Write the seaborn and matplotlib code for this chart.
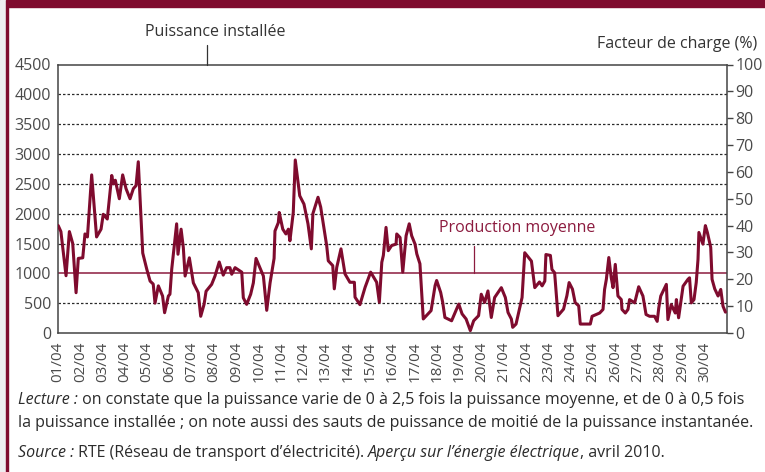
import numpy as np
import pandas as pd
import seaborn as sns
import matplotlib
matplotlib.use("Agg")
from matplotlib import pyplot as plt
from matplotlib.patches import Rectangle

# time in days since 01/04 00h, power in MW
jours = [0.01, 0.13, 0.36, 0.51, 0.66, 0.81, 0.91, 1.11, 1.21, 1.32, 1.51, 1.73,
         1.93, 2.03, 2.21, 2.41, 2.48, 2.57, 2.75, 2.90, 3.05, 3.23, 3.38, 3.50,
         3.60, 3.80, 3.98, 4.13, 4.27, 4.35, 4.50, 4.69, 4.78, 4.95, 5.02, 5.10,
         5.32, 5.38, 5.52, 5.62, 5.70, 5.89, 6.07, 6.29, 6.40, 6.55, 6.64, 6.89,
         7.04, 7.23, 7.41, 7.56, 7.71, 7.79, 7.94, 8.24, 8.31, 8.46, 8.64, 8.76,
         8.88, 9.21, 9.36, 9.51, 9.69, 9.73, 9.88, 9.92, 10.08, 10.22, 10.33, 10.40,
         10.55, 10.64, 10.84, 11.03, 11.21, 11.36, 11.43, 11.66, 11.78, 11.97, 12.05,
         12.12, 12.32, 12.39, 12.50, 12.69, 12.87, 13.09, 13.29, 13.32, 13.54, 13.77,
         14.02, 14.29, 14.41, 14.52, 14.59, 14.71, 14.81, 14.96, 15.16, 15.19, 15.34,
         15.46, 15.61, 15.75, 15.86, 16.01, 16.09, 16.23, 16.38, 16.73, 16.91, 16.98,
         17.16, 17.25, 17.35, 17.65, 17.97, 18.12, 18.30, 18.49, 18.64, 18.86, 18.98,
         19.13, 19.28, 19.43, 19.58, 19.88, 20.06, 20.18, 20.33, 20.39, 20.54, 20.81,
         20.93, 21.23, 21.38, 21.59, 21.71, 21.83, 21.88, 22.08, 22.15, 22.27, 22.42,
         22.67, 22.82, 22.92, 23.07, 23.19, 23.35, 23.42, 23.87, 23.95, 24.29, 24.44,
         24.51, 24.59, 24.70, 24.81, 24.89, 24.99, 25.11, 25.26, 25.29, 25.44, 25.56,
         25.63, 25.86, 26.04, 26.23, 26.37, 26.53, 26.75, 26.87, 26.94, 27.03, 27.28,
         27.35, 27.50, 27.68, 27.73, 27.83, 28.03, 28.25, 28.32, 28.40, 28.52, 28.62,
         28.70, 28.74, 28.92, 29.03, 29.12, 29.27, 29.33, 29.45, 29.60, 29.72, 29.82,
         29.93]
puissance = [1800, 1700, 960, 1700, 1500, 675, 1250, 1260, 1660, 1610, 2650, 1610,
             1740, 1990, 1910, 2640, 2500, 2560, 2250, 2650, 2420, 2250, 2420, 2470,
             2870, 1340, 1070, 870, 820, 500, 790, 620, 340, 620, 650, 1070,
             1830, 1320, 1740, 1430, 955, 1260, 840, 675, 280, 480, 700, 815,
             955, 1190, 970, 1095, 1095, 985, 1095, 1020, 590, 480, 650, 840,
             1250, 955, 380, 840, 1250, 1710, 1850, 2020, 1740, 1660, 1740, 1545,
             2020, 2900, 2300, 2160, 1830, 1410, 2000, 2275, 2110, 1660, 1460,
             1210, 1130, 740, 1100, 1410, 990, 850, 850, 600, 475, 765,
             1020, 850, 515, 1185, 1300, 1770, 1380, 1465, 1490, 1660, 1600,
             1020, 1630, 1830, 1630, 1490, 1325, 1160, 235, 375, 795, 880,
             680, 515, 260, 205, 485, 320, 235, 40, 205, 290, 650,
             510, 705, 260, 595, 760, 595, 345, 235, 95, 150, 595,
             1345, 1205, 760, 855, 790, 870, 1315, 1300, 1065, 1010, 290,
             400, 625, 845, 735, 510, 455, 150, 150, 280, 335, 395,
             730, 900, 1265, 925, 760, 1150, 620, 560, 395, 335, 395,
             560, 505, 775, 620, 310, 280, 280, 195, 420, 620, 815,
             225, 475, 335, 560, 255, 785, 900, 925, 505, 560, 845,
             1235, 1685, 1490, 1800, 1685, 1435, 900, 740, 620, 730, 450,
             350]
jours_labels = ["%02d/04" % d for d in range(1, 31)]
gauche_ticks = list(range(0, 5000, 500))
droite_ticks = list(range(0, 110, 10))
production_moyenne = 1000
puissance_installee = 4500

ROUGE = "#7f0b2e"
GRIS = "#4a4a4a"

df = pd.DataFrame({"jour": jours, "puissance": puissance})

sns.set_style("white")
plt.rcParams["font.family"] = ["Open Sans", "DejaVu Sans"]

fig = plt.figure(figsize=(7.65, 4.72), dpi=100)
# frame: top band and left border
fig.patches.append(Rectangle((0, 1 - 7 / 472), 1, 7 / 472, transform=fig.transFigure,
                             color=ROUGE, zorder=0))
fig.patches.append(Rectangle((0, 0), 6 / 765, 1, transform=fig.transFigure,
                             color="#eeeef0", zorder=0))
fig.patches.append(Rectangle((6 / 765, 0), 2.3 / 765, 1, transform=fig.transFigure,
                             color=ROUGE, zorder=0))

ax = fig.add_axes([58 / 765, 139 / 472, 669 / 765, 268.5 / 472])
for y in gauche_ticks[1:-1]:
    if y != production_moyenne:
        ax.axhline(y, color="#2a2a2a", lw=0.9, ls=(0, (2, 1.6)), zorder=1)
ax.axhline(production_moyenne, color="#8c1b3f", lw=1.1, zorder=2)
sns.lineplot(data=df, x="jour", y="puissance", ax=ax, color=ROUGE, lw=2.2, zorder=3)

ax.set_xlim(0, 30)
ax.set_ylim(0, puissance_installee)
ax.set_yticks(gauche_ticks)
ax.set_xticks(range(30))
ax.set_xticklabels(jours_labels, rotation=90)
ax.set_xlabel("")
ax.set_ylabel("")
ax.tick_params(axis="y", length=0, pad=5, labelsize=11.5, labelcolor=GRIS)
ax.tick_params(axis="x", length=4, width=1, color="#444444", pad=2,
               labelsize=11, labelcolor=GRIS)
for s in ax.spines.values():
    s.set_color("#444444")
    s.set_linewidth(1.1)

ax2 = ax.twinx()
ax2.set_ylim(0, 100)
ax2.set_yticks(droite_ticks)
ax2.tick_params(axis="y", direction="out", length=4, width=1, color="#444444",
                pad=2, labelsize=11.5, labelcolor=GRIS)
ax2.grid(False)
for s in ax2.spines.values():
    s.set_visible(False)

# annotations
fig.text(215 / 765, 1 - 32 / 472, "Puissance installée", ha="center", va="center",
         fontsize=11.5, color="#333333")
fig.add_artist(plt.Line2D([207 / 765, 207 / 765], [1 - 45 / 472, 1 - 64.5 / 472],
                          color="#333333", lw=0.9))
fig.text(757 / 765, 1 - 44 / 472, "Facteur de charge (%)", ha="right", va="center",
         fontsize=11.5, color="#333333")
ax.text(20.6, 1760, "Production moyenne", ha="center", va="center",
        fontsize=11.5, color="#8c1b3f")
ax.plot([18.65, 18.65], [production_moyenne, 1460], color="#8c1b3f", lw=0.9)

# caption with mixed italic pieces
renderer = fig.canvas.get_renderer()


def write_line(y, pieces):
    x = 18 / 765
    for txt, style in pieces:
        t = fig.text(x, y, txt, ha="left", va="baseline", fontsize=11.5,
                     style=style, color="#2b2b2b")
        bb = t.get_window_extent(renderer)
        x = bb.x1 / (765)


write_line(1 - 404 / 472, [("Lecture :", "italic"),
                           (" on constate que la puissance varie de 0 à 2,5 fois la puissance moyenne, et de 0 à 0,5 fois", "normal")])
write_line(1 - 427 / 472, [("la puissance installée ; on note aussi des sauts de puissance de moitié de la puissance instantanée.", "normal")])
write_line(1 - 457 / 472, [("Source :", "italic"),
                           (" RTE (Réseau de transport d’électricité). ", "normal"),
                           ("Aperçu sur l’énergie électrique", "italic"),
                           (", avril 2010.", "normal")])

fig.savefig("out.png", dpi=100)
